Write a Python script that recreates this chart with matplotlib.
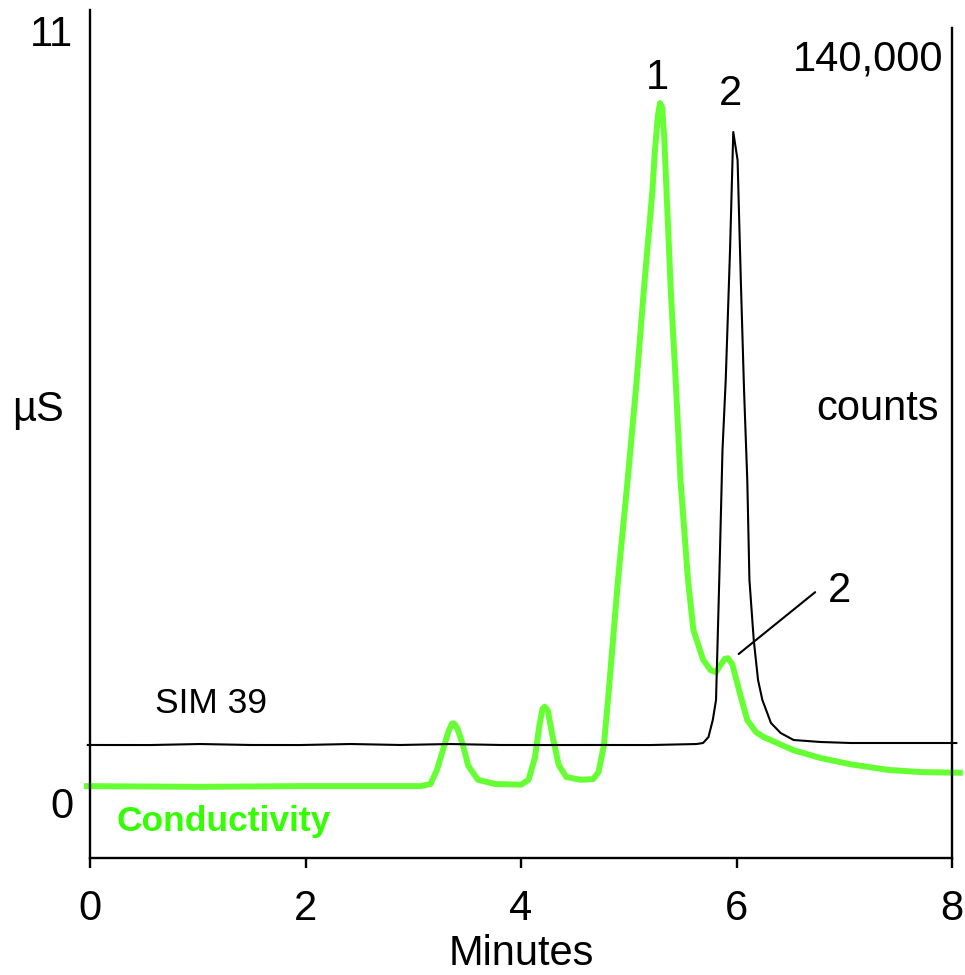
import matplotlib
matplotlib.use("Agg")
import matplotlib.pyplot as plt

plt.rcParams['font.family'] = ['Liberation Sans', 'DejaVu Sans']

# ---- data ----
cond_time = [-0.056, 1.02, 1.95, 3.07, 3.16, 3.22, 3.29, 3.33, 3.36, 3.38, 3.41, 3.46, 3.51,
             3.60, 3.76, 4.00, 4.07, 4.13, 4.17, 4.20, 4.22, 4.25, 4.29, 4.35, 4.42, 4.55,
             4.67, 4.72, 4.77, 4.81, 4.90, 4.99, 5.07, 5.14, 5.22, 5.24, 5.27, 5.29, 5.31,
             5.33, 5.35, 5.39, 5.44, 5.48, 5.55, 5.60, 5.69, 5.76, 5.81, 5.85, 5.89, 5.92,
             5.96, 6.04, 6.10, 6.18, 6.25, 6.53, 6.78, 7.06, 7.41, 7.71, 8.10]
cond_us = [0.24, 0.23, 0.24, 0.24, 0.27, 0.47, 0.83, 1.03, 1.13, 1.13, 1.06, 0.83, 0.53,
           0.33, 0.27, 0.26, 0.33, 0.65, 1.10, 1.34, 1.37, 1.31, 0.97, 0.54, 0.37, 0.33,
           0.34, 0.44, 0.83, 1.51, 3.17, 4.60, 5.95, 7.30, 8.72, 9.22, 9.78, 9.96, 9.90,
           9.45, 8.72, 7.30, 5.88, 4.60, 3.17, 2.46, 2.04, 1.89, 1.86, 1.96, 2.05, 2.06,
           1.98, 1.51, 1.18, 1.01, 0.94, 0.75, 0.64, 0.55, 0.47, 0.44, 0.43]

sim_time = [-0.02, 0.56, 1.02, 1.49, 1.95, 2.42, 2.88, 3.34, 3.81, 4.27, 4.74, 5.20, 5.63,
            5.69, 5.74, 5.78, 5.81, 5.84, 5.87, 5.90, 5.94, 5.97, 6.01, 6.04, 6.07, 6.10,
            6.12, 6.16, 6.20, 6.24, 6.32, 6.41, 6.53, 6.78, 7.06, 7.53, 8.04]
sim_counts = [10860, 10850, 11040, 10860, 10850, 11040, 10860, 11040, 10860, 10850, 10860,
              10850, 11040, 11230, 12350, 15540, 19280, 41740, 66070, 79170, 103500, 125590,
              120350, 97890, 77300, 60460, 41740, 30510, 23020, 19280, 14970, 13100, 11790,
              11420, 11230, 11230, 11230]

x_ticks = [0, 2, 4, 6, 8]
left_ticks = [0, 11]
right_ticks = [140000]
right_tick_labels = ['140,000']

# ---- figure ----
fig = plt.figure(figsize=(9.65, 9.75), dpi=100)
ax = fig.add_axes([90 / 965, 1 - 858 / 975, (952 - 90) / 965, (858 - 10) / 975])
ax2 = ax.twinx()

green = '#66FF33'
ax.plot(cond_time, cond_us, color=green, lw=4.3, clip_on=False, zorder=2,
        solid_joinstyle='round', solid_capstyle='butt')
ax2.plot(sim_time, sim_counts, color='black', lw=1.5, clip_on=False, zorder=3)

ax.set_xlim(0, 8)
ax.set_ylim(-0.783, 11.285)
ax2.set_ylim(-10294, 148426)

ax.spines['top'].set_visible(False)
ax.spines['right'].set_bounds(-0.783, 11.03)
for s in ax.spines.values():
    s.set_linewidth(1.7)
for s in ax2.spines.values():
    s.set_visible(False)

ax.set_xticks(x_ticks)
ax.tick_params(axis='x', direction='out', length=7, width=1.7, pad=15, labelsize=30)
ax.set_yticks(left_ticks)
ax.tick_params(axis='y', length=0, pad=12, labelsize=30)

ax2.set_yticks(right_ticks, right_tick_labels, ha='right')
ax2.tick_params(axis='y', length=0, pad=-6.5, labelsize=30)

ax.set_xlabel('Minutes', fontsize=30, labelpad=4)

ax.text(-0.48, 5.59, 'µS', fontsize=30, ha='center', va='center')
ax.text(7.88, 5.60, 'counts', fontsize=30, ha='right', va='center')

ax.text(0.25, -0.27, 'Conductivity', fontsize=25.5, color='#33FF00', fontweight='bold',
        ha='left', va='center')
ax.text(0.60, 1.41, 'SIM 39', fontsize=25.5, ha='left', va='center')

ax.text(5.27, 10.32, '1', fontsize=30, ha='center', va='center')
ax.text(5.94, 10.09, '2', fontsize=30, ha='center', va='center')
ax.text(6.96, 3.02, '2', fontsize=30, ha='center', va='center')
ax.annotate('', xy=(6.02, 2.12), xytext=(6.73, 3.00),
            arrowprops=dict(arrowstyle='-', lw=1.5, color='black', shrinkA=0, shrinkB=0))

fig.savefig('out.png', dpi=100)
